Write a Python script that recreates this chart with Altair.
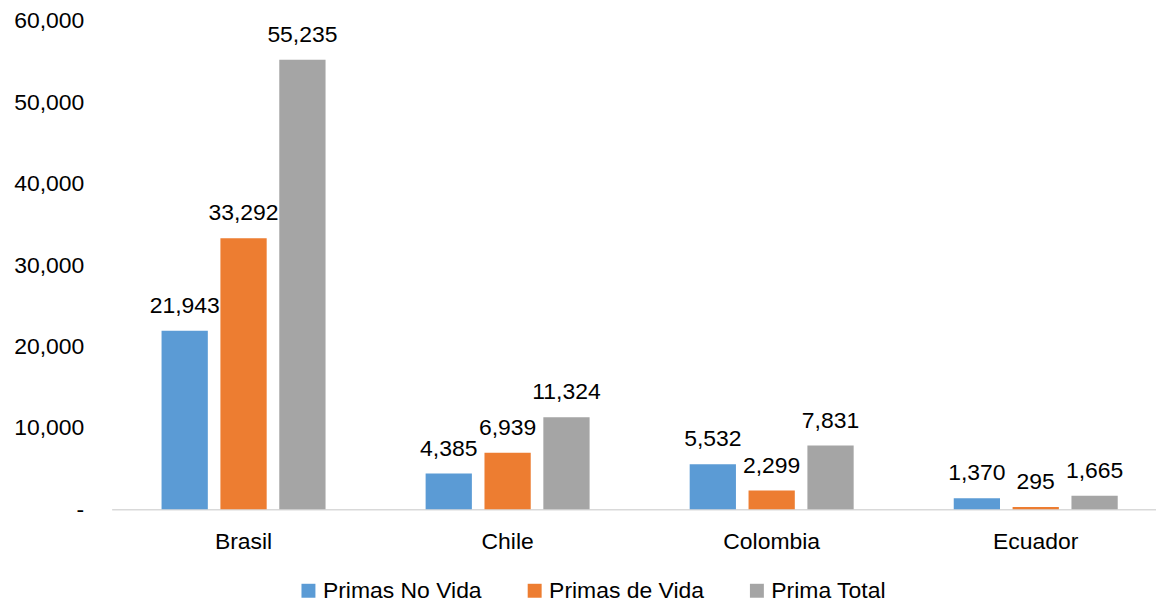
import altair as alt
import pandas as pd

paises = ["Brasil", "Chile", "Colombia", "Ecuador"]
series = ["Primas No Vida", "Primas de Vida", "Prima Total"]
primas_no_vida = [21943, 4385, 5532, 1370]
primas_de_vida = [33292, 6939, 2299, 295]
prima_total = [55235, 11324, 7831, 1665]
colores = ["#5B9BD5", "#ED7D31", "#A5A5A5"]
y_ticks = [0, 10000, 20000, 30000, 40000, 50000, 60000]

rows = []
for s, vals in zip(series, [primas_no_vida, primas_de_vida, prima_total]):
    for p, v in zip(paises, vals):
        rows.append({"pais": p, "serie": s, "valor": v})
df = pd.DataFrame(rows)

FONT = "Liberation Sans"

x = alt.X("pais:N", sort=paises,
          scale=alt.Scale(paddingInner=0.379, paddingOuter=0.167, align=0.566),
          axis=alt.Axis(title=None, labelAngle=0, ticks=False, tickSize=0,
                        labelPadding=21, labelFontSize=23, labelFont=FONT,
                        labelColor="#000000", domainColor="#D9D9D9", domainWidth=1.5))
xoff = alt.XOffset("serie:N", sort=series,
                   scale=alt.Scale(paddingInner=0.214, paddingOuter=0))
y = alt.Y("valor:Q", scale=alt.Scale(domain=[0, 60000], nice=False),
          axis=alt.Axis(title=None, values=y_ticks, domain=False, ticks=False,
                        tickSize=0, grid=False, labelPadding=28, labelFontSize=23,
                        labelFont=FONT, labelColor="#000000",
                        labelExpr="datum.value == 0 ? '-\u00a0\u00a0' : format(datum.value, ',')"))

color = alt.Color("serie:N", sort=series,
                  scale=alt.Scale(domain=series, range=colores),
                  legend=alt.Legend(title=None, orient="none", legendX=186, legendY=560,
                                    direction="horizontal", symbolType="square",
                                    symbolSize=196, symbolStrokeWidth=0,
                                    labelFontSize=23, labelFont=FONT, labelColor="#000000",
                                    columnPadding=41, labelOffset=3, padding=0))

bars = alt.Chart(df).mark_bar().encode(x=x, xOffset=xoff, y=y, color=color)
labels = alt.Chart(df).mark_text(baseline="alphabetic", align="center", dy=-18,
                                 fontSize=23, font=FONT, color="#000000").encode(
    x=x, xOffset=xoff, y=y, text=alt.Text("valor:Q", format=","))

chart = (bars + labels).properties(
    width=1048, height=490,
    autosize=alt.AutoSizeParams(type="none"),
    padding={"left": 104, "top": 12, "right": 0, "bottom": 95},
).configure_view(strokeWidth=0)

chart.save("out.html", embed_options={"renderer": "svg", "actions": False})
